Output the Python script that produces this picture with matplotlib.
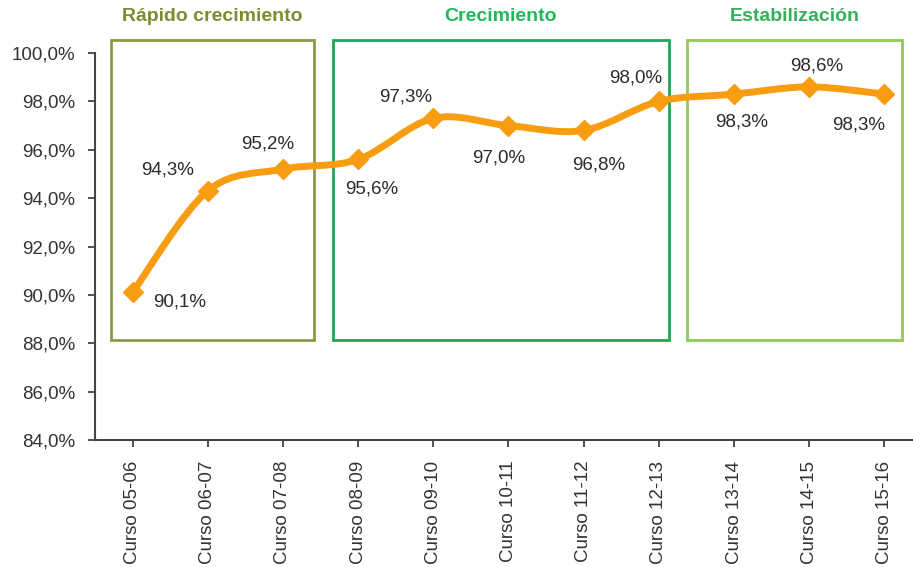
import numpy as np
import matplotlib.pyplot as plt
from matplotlib.path import Path
from matplotlib.patches import PathPatch, Rectangle

plt.rcParams['font.family'] = ['Liberation Sans', 'DejaVu Sans']

cursos = ['Curso 05-06', 'Curso 06-07', 'Curso 07-08', 'Curso 08-09', 'Curso 09-10',
          'Curso 10-11', 'Curso 11-12', 'Curso 12-13', 'Curso 13-14', 'Curso 14-15',
          'Curso 15-16']
tasa = [90.1, 94.3, 95.2, 95.6, 97.3, 97.0, 96.8, 98.0, 98.3, 98.6, 98.3]
etiquetas = ['90,1%', '94,3%', '95,2%', '95,6%', '97,3%', '97,0%', '96,8%',
             '98,0%', '98,3%', '98,6%', '98,3%']
# label offsets in pixels (dx, dy) from each point
offsets = [(47, -10), (-40, 21), (-15, 25), (14, -30), (-28, 21), (-10, -32),
           (15, -35), (-23, 23), (8, -28), (7, 21), (-26, -31)]

# phases: name, x start, x end, box colour, title colour
fases = [('Rápido crecimiento', -0.28, 2.41, '#8a9a45', '#7d8c2e'),
         ('Crecimiento', 2.66, 7.14, '#1fa655', '#1fb85a'),
         ('Estabilización', 7.38, 10.24, '#8fcb57', '#35b05a')]

naranja = '#f89d12'

fig = plt.figure(figsize=(9.13, 5.67), dpi=100)
fig.patch.set_facecolor('white')
ax = fig.add_axes([0.104, 0.224, 0.896, 0.6825])
ax.set_facecolor('none')

x = np.arange(len(tasa))
y = np.array(tasa)

# smoothed line like Excel (cubic bezier between points)
verts = [(x[0], y[0])]
codes = [Path.MOVETO]
n = len(x)
for i in range(n - 1):
    p0 = np.array([x[max(i - 1, 0)], y[max(i - 1, 0)]])
    p1 = np.array([x[i], y[i]])
    p2 = np.array([x[i + 1], y[i + 1]])
    p3 = np.array([x[min(i + 2, n - 1)], y[min(i + 2, n - 1)]])
    c1 = p1 + (p2 - p0) / 6
    c2 = p2 - (p3 - p1) / 6
    verts += [tuple(c1), tuple(c2), tuple(p2)]
    codes += [Path.CURVE4] * 3
ax.add_patch(PathPatch(Path(verts, codes), fill=False, edgecolor=naranja,
                       lw=5, capstyle='round', joinstyle='round', zorder=3))
ax.plot(x, y, linestyle='none', marker='D', markersize=10.5, color=naranja,
        markeredgecolor=naranja, zorder=4)

for xi, yi, lab, (dx, dy) in zip(x, y, etiquetas, offsets):
    ax.annotate(lab, (xi, yi), xytext=(dx, dy), textcoords='offset pixels',
                ha='center', va='center', fontsize=13.5, color='#2b2b2b', zorder=5)

for nombre, x0, x1, borde, texto in fases:
    ax.add_patch(Rectangle((x0, 88.13), x1 - x0, 100.53 - 88.13, fill=False,
                           edgecolor=borde, lw=2, clip_on=False, zorder=2))
    ax.text((x0 + x1) / 2, 101.5, nombre, ha='center', va='center',
            fontsize=14, fontweight='bold', color=texto, clip_on=False)

ax.set_xlim(-0.5, 10.38)
ax.set_ylim(84, 100)
yt = np.arange(84, 100.1, 2)
ax.set_yticks(yt)
ax.set_yticklabels([f'{v:.1f}%'.replace('.', ',') for v in yt])
ax.set_xticks(x)
ax.set_xticklabels(cursos, rotation=90)
ax.tick_params(axis='both', labelsize=13.5, colors='#333333', length=5, width=1.2)
ax.tick_params(axis='x', pad=10)
ax.tick_params(axis='y', pad=9)
for s in ['top', 'right']:
    ax.spines[s].set_visible(False)
for s in ['left', 'bottom']:
    ax.spines[s].set_color('#444444')
    ax.spines[s].set_linewidth(1.5)

fig.savefig('out.png', dpi=100, facecolor='white')
